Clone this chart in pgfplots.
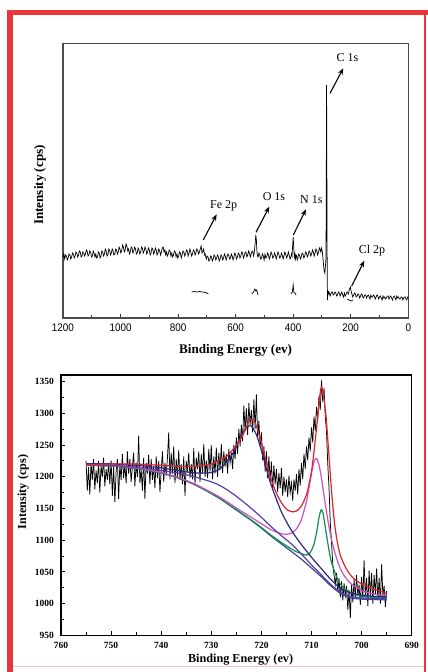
\documentclass[border=0pt]{standalone}
\usepackage{pgfplots}
\pgfplotsset{compat=1.18}
\usepackage{fontspec}
\setmainfont{Liberation Serif}
\newfontfamily\arial{Liberation Sans}
\usetikzlibrary{arrows.meta}
\definecolor{frame}{HTML}{E8363C}
\definecolor{fitred}{HTML}{E0242C}
\definecolor{fitnavy}{HTML}{2A2A86}
\definecolor{fitpurple}{HTML}{5C3CA8}
\definecolor{fitmag}{HTML}{CC50C0}
\definecolor{fitgreen}{HTML}{10904A}
\definecolor{fitbg}{HTML}{3A4A9A}
\begin{document}
\begin{tikzpicture}
\useasboundingbox (0,0) rectangle (428pt,672pt);
\fill[white] (0,0) rectangle (428pt,672pt);
% red frame
\fill[frame] (7.3pt,0pt) rectangle (12.7pt,662pt);
\fill[frame] (7.3pt,657pt) rectangle (428pt,662pt);
\fill[frame] (424.3pt,0pt) rectangle (426pt,657pt);
\draw[frame!30, line width=1pt] (12.7pt,5.3pt) -- (424.3pt,5.3pt);

% ---------------- top: survey spectrum ----------------
\begin{axis}[
  at={(63pt,354pt)}, anchor=south west, scale only axis,
  width=345.3pt, height=274.7pt,
  xmin=0, xmax=1200, x dir=reverse,
  ymin=0, ymax=274.7,
  axis line style={draw=black!70, line width=1.2pt},
  xtick={0,200,...,1200}, minor xtick={100,300,...,1100},
  ytick=\empty, xtick pos=left, tick align=inside,
  major tick length=4pt, minor tick length=2.5pt,
  every tick/.style={black!80, line width=1pt},
  /pgf/number format/1000 sep={}, /pgf/number format/assume math mode=true,
  xticklabel style={font=\arial\fontsize{11}{11}\selectfont, xscale=0.9, inner sep=0pt, anchor=center, yshift=-10pt},
  xlabel={Binding Energy (ev)},
  xlabel style={font=\fontsize{13.1}{14}\selectfont\bfseries, at={(axis description cs:0.5,-0.1165)}, anchor=center},
  ylabel={Intensity (cps)},
  ylabel style={font=\fontsize{13.1}{14}\selectfont\bfseries, at={(axis description cs:-0.0666,0.484)}, anchor=center},
  clip=false,
]
\addplot[black, line width=0.7pt] coordinates {
(1200,61)(1197,64)(1194,59)(1191,63)(1188,62)(1185,58)(1182,60)(1179,64)(1176,63)(1173,59)
(1170,61)(1167,65)(1164,64)(1161,60)(1158,62)(1155,66)(1152,65)(1149,61)(1146,63)(1143,67)
(1140,66)(1137,61)(1134,62)(1131,66)(1128,65)(1125,62)(1122,64)(1119,68)(1116,67)(1113,62)
(1110,63)(1107,67)(1104,66)(1101,61)(1098,62)(1095,67)(1092,65)(1089,61)(1086,64)(1083,60)
(1080,61)(1077,66)(1074,65)(1071,60)(1068,62)(1065,67)(1062,66)(1059,62)(1056,64)(1053,69)
(1050,67)(1047,62)(1044,63)(1041,69)(1038,68)(1035,63)(1032,65)(1029,69)(1026,67)(1023,63)
(1020,64)(1017,69)(1014,68)(1011,64)(1008,66)(1005,71)(1002,69)(999,65)(996,67)(993,73)
(990,71)(987,66)(984,68)(981,74)(978,72)(975,67)(972,69)(969,64)(966,66)(963,71)
(960,70)(957,65)(954,67)(951,71)(948,69)(945,64)(942,65)(939,70)(936,68)(933,64)
(930,66)(927,71)(924,70)(921,65)(918,67)(915,71)(912,69)(909,64)(906,66)(903,70)
(900,68)(897,63)(894,65)(891,70)(888,69)(885,64)(882,66)(879,70)(876,68)(873,63)
(870,65)(867,69)(864,67)(861,63)(858,66)(855,70)(852,71)(849,66)(846,68)(843,63)
(840,66)(837,62)(834,64)(831,68)(828,67)(825,62)(822,65)(819,61)(816,63)(813,67)
(810,66)(807,61)(804,64)(801,60)(798,62)(795,66)(792,65)(789,60)(786,63)(783,67)
(780,66)(777,62)(774,64)(771,68)(768,67)(765,62)(762,65)(759,69)(756,66)(753,62)
(750,64)(747,68)(744,67)(741,63)(738,65)(735,69)(732,68)(729,64)(726,66)(723,69)
(720,72)(717,65)(714,66)(712,69)(710,67)(708,63)(706,64)(704,61)(702,59)(699,62)
(696,61)(693,57)(690,58)(687,62)(684,61)(681,57)(678,59)(675,63)(672,62)(669,58)
(666,60)(663,63)(660,61)(657,57)(654,59)(651,63)(648,62)(645,58)(642,60)(639,64)
(636,62)(633,58)(630,61)(627,64)(624,63)(621,59)(618,60)(615,64)(612,62)(609,58)
(606,61)(603,65)(600,63)(597,59)(594,61)(591,65)(588,64)(585,60)(582,62)(579,66)
(576,65)(573,60)(570,62)(567,66)(564,66)(561,61)(558,63)(555,67)(552,65)(549,61)
(546,64)(543,67)(540,66)(538,62)(536,64)(532,75)(530,83)(528,78)(526,66)(524,62)
(522,61)(519,65)(516,63)(513,59)(510,60)(507,64)(504,62)(501,58)(498,64)(495,60)
(492,61)(489,65)(486,63)(483,59)(480,62)(477,66)(474,64)(471,60)(468,61)(465,65)
(462,63)(459,59)(456,62)(453,66)(450,64)(447,60)(444,61)(441,65)(438,63)(435,59)
(432,62)(429,66)(426,64)(423,60)(420,62)(417,66)(414,63)(411,59)(408,61)(406,64)
(404,62)(402,72)(400,81)(398,70)(396,61)(394,64)(392,59)(390,63)(388,62)(386,58)
(384,60)(381,64)(378,63)(375,59)(372,61)(369,65)(366,64)(363,60)(360,62)(357,66)
(354,65)(351,61)(348,63)(345,67)(342,66)(339,62)(336,64)(333,68)(330,66)(327,62)
(324,65)(321,69)(318,67)(315,63)(312,66)(309,70)(306,68)(304,66)(302,70)(299,67)
(296,58)(293,48)(290,45)(288,52)(286,60)(285,140)(284,233)(283,150)(282,60)(281,18)
(280,28)(278,24)(276,26)(274,25)(272,22)(270,23)(267,26)(264,26)(261,23)(258,24)
(255,26)(252,25)(249,22)(246,23)(243,26)(240,25)(237,22)(234,24)(231,26)(228,23)
(225,21)(222,25)(219,22)(216,24)(213,26)(210,25)(208,24)(206,27)(203,30)(201,31)
(199,27)(196,24)(193,21)(190,23)(187,25)(184,24)(181,21)(178,22)(175,24)(172,23)
(169,20)(166,22)(163,24)(160,23)(157,20)(154,21)(151,23)(148,23)(145,20)(142,22)
(139,23)(136,21)(133,19)(130,23)(127,21)(124,21)(121,23)(118,22)(115,19)(112,21)
(109,23)(106,22)(103,19)(100,21)(97,22)(94,20)(91,18)(88,22)(85,20)(82,21)
(79,19)(76,20)(73,22)(70,22)(67,19)(64,21)(61,22)(58,20)(55,18)(52,21)
(49,22)(46,20)(43,18)(40,22)(37,20)(34,21)(31,19)(28,19)(25,21)(22,21)
(19,18)(16,20)(13,21)(10,21)(7,18)(4,19)(2,21)(0,20)
};
\addplot[black, line width=0.7pt] coordinates {(753,26)(745,26.5)(735,26)(725,26.5)(715,26)(705,25.5)(700,25)(695,24)};
\addplot[black, line width=0.7pt] coordinates {(544,24)(538,26)(533,29)(530,27)(527,28)(522,23)};
\addplot[black, line width=0.7pt] coordinates {(408,24)(403,26)(400,33)(398,26)(394,25)(390,23)};
\addplot[black, line width=0.7pt] coordinates {(212,19)(200,17)(192,18)};
% annotations
\begin{scope}[every node/.style={font=\fontsize{12}{12}\selectfont}]
\node at (axis cs:211.3,260) {C 1s};
\node at (axis cs:641.5,112.3) {Fe 2p};
\node at (axis cs:466.7,121) {O 1s};
\node at (axis cs:337.1,118.7) {N 1s};
\node at (axis cs:126.1,67.3) {Cl 2p};
\end{scope}
\begin{scope}[-{Stealth[length=6.5pt,width=5pt]}, line width=1.1pt]
\draw (axis cs:272.1,224.7) -- (axis cs:225.9,249.7);
\draw (axis cs:712.4,78) -- (axis cs:665.9,103.7);
\draw (axis cs:529.3,85.7) -- (axis cs:483.1,111.3);
\draw (axis cs:399.7,83) -- (axis cs:355.5,108.7);
\draw (axis cs:196.7,32) -- (axis cs:152.9,57.3);
\end{scope}
\end{axis}

% ---------------- bottom: Fe 2p ----------------
\begin{axis}[
  at={(61pt,36.7pt)}, anchor=south west, scale only axis,
  width=350.7pt, height=260.3pt,
  xmin=690, xmax=760, x dir=reverse,
  ymin=950, ymax=1360.5,
  axis line style={draw=black, line width=1.1pt},
  xtick={690,700,...,760}, minor xtick={695,705,...,755},
  ytick={950,1000,...,1350}, minor ytick={975,1025,...,1325},
  xtick pos=left, ytick pos=left, tick align=inside,
  major tick length=4.5pt, minor tick length=3pt,
  every tick/.style={black, line width=1pt},
  /pgf/number format/1000 sep={}, /pgf/number format/assume math mode=true,
  xticklabel style={font=\fontsize{9.5}{9.5}\selectfont\bfseries, inner sep=0pt, anchor=center, yshift=-9.7pt},
  yticklabel style={font=\fontsize{9.5}{9.5}\selectfont\bfseries, inner sep=0pt, anchor=east, xshift=-7pt},
  xlabel={Binding Energy (ev)},
  xlabel style={font=\fontsize{12.2}{13}\selectfont\bfseries, at={(axis description cs:0.512,-0.0922)}, anchor=center},
  ylabel={Intensity (cps)},
  ylabel style={font=\fontsize{12.2}{13}\selectfont\bfseries, at={(axis description cs:-0.1075,0.5505)}, anchor=center},
]
\addplot[black, line width=0.75pt] coordinates {
(755.00,1225)(754.75,1178)(754.50,1215)(754.25,1172)(754.00,1222)(753.75,1195)(753.50,1228)(753.25,1180)
(753.00,1210)(752.75,1190)(752.50,1225)(752.25,1175)(752.00,1218)(751.75,1200)(751.50,1230)(751.25,1185)
(751.00,1212)(750.75,1195)(750.50,1222)(750.25,1188)(750.00,1226)(749.75,1170)(749.50,1215)(749.25,1160)
(749.00,1208)(748.75,1228)(748.50,1165)(748.25,1220)(748.00,1195)(747.75,1236)(747.50,1198)(747.25,1218)
(747.00,1190)(746.75,1240)(746.50,1205)(746.25,1228)(746.00,1192)(745.75,1215)(745.50,1238)(745.25,1185)
(745.00,1222)(744.75,1200)(744.50,1265)(744.25,1190)(744.00,1212)(743.75,1178)(743.50,1230)(743.25,1165)
(743.00,1222)(742.75,1205)(742.50,1235)(742.25,1188)(742.00,1228)(741.75,1195)(741.50,1216)(741.25,1182)
(741.00,1232)(740.75,1198)(740.50,1225)(740.25,1176)(740.00,1210)(739.75,1240)(739.50,1192)(739.25,1222)
(739.00,1202)(738.75,1230)(738.50,1270)(738.25,1196)(738.00,1238)(737.75,1205)(737.50,1248)(737.25,1190)
(737.00,1228)(736.75,1200)(736.50,1242)(736.25,1195)(736.00,1220)(735.75,1188)(735.50,1232)(735.25,1170)
(735.00,1225)(734.75,1210)(734.50,1238)(734.25,1198)(734.00,1220)(733.75,1196)(733.50,1245)(733.25,1188)
(733.00,1230)(732.75,1212)(732.50,1240)(732.25,1192)(732.00,1236)(731.75,1205)(731.50,1252)(731.25,1200)
(731.00,1226)(730.75,1198)(730.50,1244)(730.25,1208)(730.00,1250)(729.75,1196)(729.50,1232)(729.25,1205)
(729.00,1246)(728.75,1200)(728.50,1238)(728.25,1210)(728.00,1252)(727.75,1206)(727.50,1240)(727.25,1216)
(727.00,1236)(726.75,1205)(726.50,1244)(726.25,1222)(726.00,1238)(725.75,1212)(725.50,1250)(725.25,1228)
(725.00,1262)(724.75,1236)(724.50,1275)(724.25,1248)(724.00,1282)(723.75,1256)(723.50,1312)(723.25,1272)
(723.00,1308)(722.75,1266)(722.50,1316)(722.25,1282)(722.00,1305)(721.75,1270)(721.50,1322)(721.25,1276)
(721.00,1330)(720.75,1262)(720.50,1288)(720.25,1248)(720.00,1270)(719.75,1226)(719.50,1248)(719.25,1208)
(719.00,1240)(718.75,1198)(718.50,1232)(718.25,1192)(718.00,1224)(717.75,1180)(717.50,1218)(717.25,1188)
(717.00,1212)(716.75,1176)(716.50,1206)(716.25,1182)(716.00,1214)(715.75,1170)(715.50,1200)(715.25,1176)
(715.00,1196)(714.75,1168)(714.50,1202)(714.25,1175)(714.00,1190)(713.75,1162)(713.50,1196)(713.25,1178)
(713.00,1204)(712.75,1172)(712.50,1212)(712.25,1186)(712.00,1222)(711.75,1196)(711.50,1236)(711.25,1212)
(711.00,1248)(710.75,1226)(710.50,1262)(710.25,1240)(710.00,1278)(709.75,1254)(709.50,1295)(709.25,1272)
(709.00,1310)(708.75,1290)(708.50,1328)(708.25,1305)(708.00,1352)(707.75,1318)(707.50,1340)(707.25,1296)
(707.00,1270)(706.75,1220)(706.50,1182)(706.25,1128)(706.00,1096)(705.75,1062)(705.50,1045)(705.25,1030)
(705.00,1048)(704.75,1018)(704.50,1040)(704.25,1010)(704.00,1035)(703.75,1005)(703.50,1032)(703.25,1012)
(703.00,1028)(702.75,990)(702.50,1022)(702.25,977)(702.00,1030)(701.75,1002)(701.50,1038)(701.25,1008)
(701.00,1045)(700.75,1012)(700.50,1030)(700.25,998)(700.00,1042)(699.75,1006)(699.50,1068)(699.25,1010)
(699.00,1040)(698.75,996)(698.50,1052)(698.25,1012)(698.00,1048)(697.75,1000)(697.50,1045)(697.25,1015)
(697.00,1055)(696.75,1005)(696.50,1040)(696.25,1000)(696.00,1062)(695.75,1012)(695.50,1028)(695.25,995)
(695.00,1020)
};
% background
\addplot[fitbg, line width=1.2pt, smooth] coordinates {
(755,1218)(750,1217)(745,1213)(740,1206)(737,1199)(734,1190)(731,1178)(728,1164)(726,1153)(724,1142)
(722,1131)(720,1119)(718,1106)(716,1094)(714,1082)(712,1070)(710,1056)(708,1042)(706,1027)(704,1015)
(702,1009)(700,1007)(698,1006.5)(695,1006)};
% green
\addplot[fitgreen, line width=1.2pt, smooth] coordinates {
(755,1218)(750,1217)(745,1213.2)(740,1206.3)(736,1196.4)(733,1186.5)(730,1173.8)(728,1164.5)(726,1153.6)
(724,1142.7)(722,1131.8)(720,1120)(718,1107.5)(716,1096.3)(714,1086.1)(713,1081.8)(712,1078.8)(711,1076.5)
(710.5,1078)(710,1084)(709.5,1093.9)(709,1111.6)(708.5,1135.8)(708.2,1145)(708,1148)(707.7,1143)(707.5,1133.4)
(707,1107.9)(706.5,1084)(706,1065.1)(705,1042.2)(704,1028.1)(703,1021.3)(702,1016.2)(700,1011.6)(698,1010)(695,1009)};
% magenta
\addplot[fitmag, line width=1.2pt, smooth] coordinates {
(755,1218.4)(750,1217.5)(745,1213.7)(740,1206.9)(736,1197.2)(733,1187.5)(730,1175.3)(728,1166.4)(726,1156)
(724,1145.8)(722,1136)(720,1125.9)(718,1116.2)(716,1110.2)(715,1109.3)(714,1111.2)(713,1117.8)(712,1132.9)
(711,1161.6)(710.5,1182.4)(710,1205.2)(709.5,1223.7)(709,1229)(708.5,1218.6)(708,1197.2)(707.5,1170.4)
(707,1144.3)(706.5,1121)(706,1100.8)(705,1071.6)(704,1051)(703,1039.1)(702,1030.4)(700,1020.9)(698,1015.8)(695,1012.6)};
% purple
\addplot[fitpurple, line width=1.2pt, smooth] coordinates {
(755,1218.5)(750,1218)(745,1215)(740,1210)(736,1205)(733,1199)(730,1192)(728,1185)(726,1175)(724,1163)
(722,1150)(720,1136)(718,1121)(716,1107)(714,1094)(712,1078)(710,1061)(708,1045)(706,1029)(704,1017)
(702,1011)(700,1009)(698,1008)(695,1007.5)};
% navy
\addplot[fitnavy, line width=1.2pt, smooth] coordinates {
(755,1220.5)(750,1220.4)(745,1218)(740,1214)(736,1209)(733,1206)(730,1206.7)(728,1214.6)(726,1233)
(725,1247.7)(724,1264.5)(723,1278)(722,1280)(721,1266.4)(720,1241.5)(719,1212.7)(718,1186)(716,1144.6)
(714,1115.4)(712,1093)(710,1073)(708,1054.8)(706,1037)(704,1023)(702,1016.6)(700,1013.5)(698,1011.6)(695,1010.7)};
% red total
\addplot[fitred, line width=1.2pt, smooth] coordinates {
(755,1219)(750,1220)(745,1220)(740,1218)(737,1216.5)(735,1216)(732,1217.5)(730,1220)(729,1224)(728,1228)
(727,1232)(726,1240)(725,1250)(724,1261)(723,1278)(722.5,1288)(722.2,1291)(721.5,1287)(721,1280)(720,1254)
(719,1222)(718,1195)(717,1174)(716,1159)(715,1149)(714,1145)(713,1146)(712,1154)(711,1172)(710.5,1188)
(710,1208)(709.5,1240)(709,1276)(708.5,1316)(708.2,1336)(708,1341)(707.7,1334)(707.3,1310)(707,1286)
(706.5,1232)(706,1178)(705.5,1134)(705,1104)(704.5,1084)(704,1071)(703,1054)(702,1043)(701,1036)(700,1031)
(698,1024)(696,1019)(695,1017)};
\end{axis}
\end{tikzpicture}
\end{document}
